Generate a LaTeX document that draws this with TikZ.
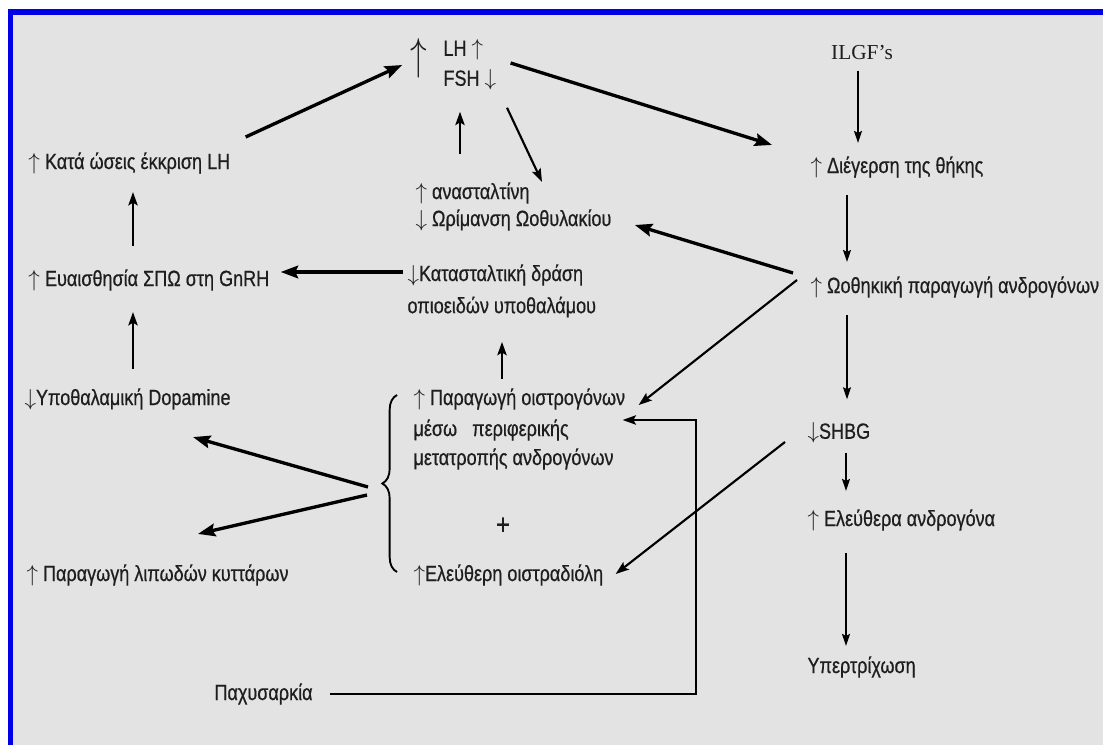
\documentclass[tikz,border=0pt]{standalone}
\usepackage{fontspec}
\setmainfont[FakeStretch=0.82,FakeBold=0.6]{Liberation Sans}
\newfontfamily\ilgffont{Liberation Serif}
\usetikzlibrary{arrows.meta,calc,decorations.pathreplacing}

\newcommand{\upar}{$\uparrow$}
\newcommand{\dnar}{$\downarrow$}

\tikzset{every picture/.style={line width=0.75pt}}
\tikzset{
  lbl/.style={anchor=west, inner sep=0pt, text={rgb,255:red,30;green,30;blue,30}, font=\fontsize{16.5}{18}\selectfont},
  thk/.style={line width=2.5pt, -{Stealth[length=13pt,width=9.5pt,inset=2pt]}},
  med/.style={line width=1.6pt, -{Stealth[length=10pt,width=7pt,inset=2pt]}},
  thn/.style={line width=1.1pt, -{Stealth[length=9pt,width=6pt,inset=1.5pt]}},
}

\begin{document}
\begin{tikzpicture}[x=0.75pt,y=0.75pt,yscale=-1,xscale=1]
\useasboundingbox (0,0) rectangle (1103,745);

%Frame
\fill [white] (0,0) rectangle (1103,745);
\fill [fill={rgb, 255:red, 0; green, 0; blue, 230 }] (8,9) rectangle (1103,745);
\fill [fill={rgb, 255:red, 227; green, 227; blue, 227 }] (13,15) rectangle (1103,745);

% Text Node
\draw (419,58) node [lbl, anchor=center] (bigup) {\scalebox{1}[1.35]{\fontsize{27}{27}\selectfont\upar}};
% Text Node
\draw (443,50) node [lbl] (lh) {LH \upar};
% Text Node
\draw (443,80) node [lbl] (fsh) {FSH \dnar};
% Text Node
\draw (862,53) node [lbl, anchor=center, font=\fontsize{16}{18}\ilgffont] (ilgf) {ILGF’s};
% Text Node
\draw (28,163) node [lbl] (kata) {\upar{} Κατά ώσεις έκκριση LH};
% Text Node
\draw (415,193) node [lbl] (anast) {\upar{} ανασταλτίνη};
% Text Node
\draw (415,220) node [lbl] (orim) {\dnar{} Ωρίμανση Ωοθυλακίου};
% Text Node
\draw (810,167) node [lbl] (dieg) {\upar{} Διέγερση της θήκης};
% Text Node
\draw (28,280) node [lbl] (evais) {\upar{} Ευαισθησία ΣΠΩ στη GnRH};
% Text Node
\draw (407,275) node [lbl] (katast) {\dnar Κατασταλτική δράση};
% Text Node
\draw (407,307) node [lbl] (opioid) {οπιοειδών υποθαλάμου};
% Text Node
\draw (810,287) node [lbl] (oothik) {\upar{} Ωοθηκική παραγωγή ανδρογόνων};
% Text Node
\draw (24,399) node [lbl] (dopa) {\dnar Υποθαλαμική Dopamine};
% Text Node
\draw (413,399) node [lbl] (parag) {\upar{} Παραγωγή οιστρογόνων};
% Text Node
\draw (413,430) node [lbl] (meso) {μέσω\ \ \ περιφερικής};
% Text Node
\draw (413,459) node [lbl] (metatr) {μετατροπής ανδρογόνων};
% Text Node
\draw (503,526) node [lbl, anchor=center, font=\fontsize{22}{22}\selectfont] (plus) {+};
% Text Node
\draw (413,575) node [lbl] (elefth) {\upar Ελεύθερη οιστραδιόλη};
% Text Node
\draw (26,575) node [lbl] (lipod) {\upar{} Παραγωγή λιπωδών κυττάρων};
% Text Node
\draw (807,433) node [lbl] (shbg) {\dnar SHBG};
% Text Node
\draw (807,520) node [lbl] (elandr) {\upar{} Ελεύθερα ανδρογόνα};
% Text Node
\draw (807,667) node [lbl] (yper) {Υπερτρίχωση};
% Text Node
\draw (214,694) node [lbl] (pachy) {Παχυσαρκία};

%Brace
\coordinate (bractop) at (397,395);
\coordinate (bracbot) at (397,572);
\coordinate (tipa) at (368,487);
\coordinate (tipb) at (367,495);
\draw [line width=1.4pt, decorate, decoration={brace, amplitude=11pt}] (bracbot) -- (bractop);

%Straight Lines
\draw [thk] ($(kata.east)+(15,-26)$) -- ($(bigup.west)+(-8,7)$);
\draw [thk] ($(lh.east)+(27,13)$) -- ($(dieg.north west)+(-38,-11)$);
\draw [med] ($(anast.north west)+(45,-28)$) -- ($(fsh.south west)+(17,21)$);
\draw [med] ($(fsh.south west)+(64,17)$) -- ($(orim.north west)+(127,-27)$);
\draw [thn] ($(ilgf.south)+(-4,10)$) -- ($(ilgf.south |- dieg.north)+(-4,-13)$);
\draw [thn] ($(dieg.south west)+(37,17)$) -- ($(oothik.north west)+(37,-14)$);
\draw [thk] ($(oothik.west)+(-17,-14)$) -- ($(orim.east)+(23,5)$);
\draw [med] ($(oothik.west)+(-13,-7)$) -- ($(parag.east)+(13,6)$);
\draw [thn] ($(oothik.south west)+(37,17)$) -- ($(shbg.north west)+(40,-23)$);
\draw [thn] ($(shbg.south west)+(39,9)$) -- ($(elandr.north west)+(39,-18)$);
\draw [thn] ($(elandr.south west)+(39,22)$) -- ($(yper.north west)+(39,-10)$);
\draw [med] ($(shbg.west)+(-22,9)$) -- ($(elefth.east)+(12,-1)$);
\draw [med] ($(pachy.east)+(17,0)$) -| ($(parag.east)+(70,21)$) -- ($(parag.east)+(-3,21)$);
\draw [thk] ($(katast.west)+(-4,-3)$) -- ($(katast.west -| evais.east)+(11,-3)$);
\draw [med] ($(evais.north west)+(105,-23)$) -- ($(kata.south west)+(105,18)$);
\draw [med] ($(dopa.north west)+(109,-19)$) -- ($(evais.south west)+(105,21)$);
\draw [med] ($(parag.north west)+(89,-9)$) -- ($(opioid.south west)+(95,24)$);
\draw [thk] (tipa) -- ($(dopa.south west)+(169,27)$);
\draw [thk] (tipb) -- ($(lipod.north west)+(172,-30)$);

\end{tikzpicture}
\end{document}
